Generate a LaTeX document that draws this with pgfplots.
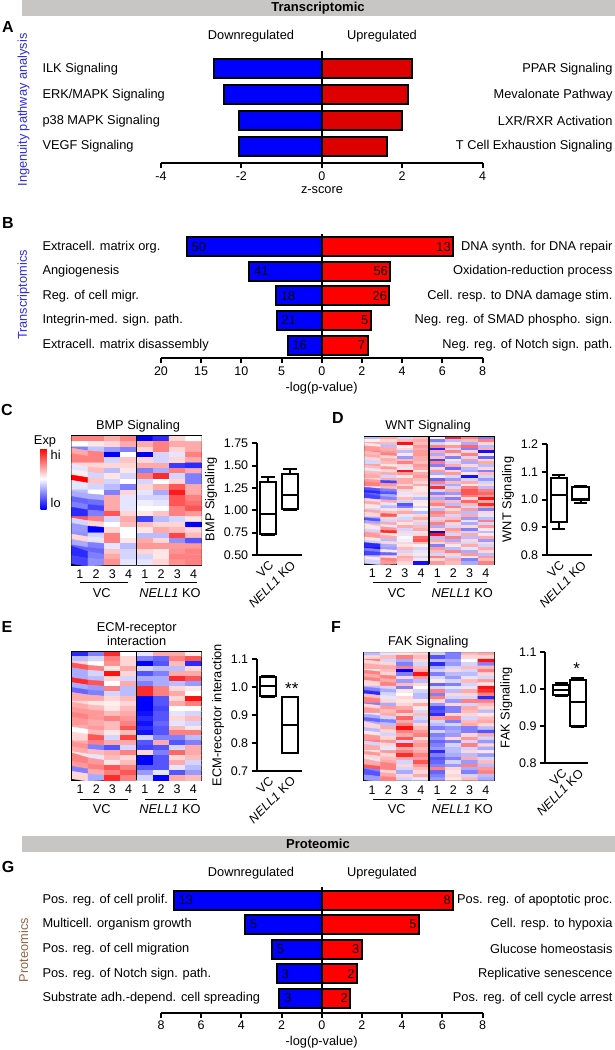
\documentclass[border=0pt]{standalone}
\usepackage{fontspec}
\setmainfont{Liberation Sans}
\usepackage{pgfplots}
\pgfplotsset{compat=1.18}
\usepgfplotslibrary{statistics}
\newcommand\fs[1]{\fontsize{#1bp}{#1bp}\selectfont}
\definecolor{hdr}{RGB}{200,197,197}
\definecolor{bl}{RGB}{0,0,255}
\definecolor{rdA}{RGB}{220,0,0}
\definecolor{rdB}{RGB}{255,0,0}
\definecolor{ipa}{RGB}{45,45,230}
\definecolor{prot}{RGB}{150,100,70}
\pgfplotsset{
  barax/.style={scale only axis, xbar, bar width=19bp, bar shift=0pt, y dir=reverse,
    enlargelimits=false, clip=false,
    axis x line*=bottom, axis y line*=left,
    x axis line style={line width=2bp},
    y axis line style={draw=none},
    xtick style={line width=2bp, black}, ytick style={draw=none},
    xtick align=outside, major tick length=5bp,
    xticklabel style={font=\fs{12.5}}, yticklabel style={font=\fs{12.8}}, ytick={1,2,3,4,5}},
  leftlab/.style={yticklabel style={anchor=west, xshift=-#1}},
  rightlab/.style={axis y line*=right, yticklabel pos=right, yticklabel style={anchor=east, xshift=#1}},
  bb/.style={fill=bl, draw=black, line width=2bp},
  rb/.style={fill=#1, draw=black, line width=2bp},
  lnum/.style={nodes near coords={\hspace{2.5bp}\pgfplotspointmeta}, point meta=explicit symbolic, every node near coord/.append style={anchor=west, font=\fs{12.8}, text=black, inner xsep=1.5bp, inner ysep=0pt}},
  rnum/.style={nodes near coords={\pgfplotspointmeta\hspace{2.5bp}}, point meta=explicit symbolic, every node near coord/.append style={anchor=east, font=\fs{12.8}, text=black, inner xsep=1.5bp, inner ysep=0pt}},
  hm/.style={scale only axis, width=130bp, height=129bp, enlargelimits=false,
    xmin=-0.5, xmax=7.5, ymin=-0.5, y dir=reverse, ytick=\empty,
    xtick={0,...,7}, xticklabels={1,2,3,4,1,2,3,4}, xtick style={draw=none},
    axis line style={line width=1.5bp},
    colormap={bwr}{rgb255=(0,0,255) rgb255=(255,255,255) rgb255=(255,0,0)},
    point meta min=-3, point meta max=3, tick label style={font=\fs{12.5}},
    xticklabel style={yshift=-1.5bp}},
  hmp/.style={matrix plot*, mesh/cols=8, point meta=explicit},
  boxax/.style={scale only axis, axis x line*=bottom, axis y line*=left,
    axis line style={line width=2bp}, xtick={1,2}, xticklabels={VC,\textit{NELL1} KO},
    xtick style={draw=none}, ytick style={line width=2bp, black}, ytick align=outside,
    major tick length=5bp, tick label style={font=\fs{12.5}}, label style={font=\fs{12.8}},
    xticklabel style={rotate=45, anchor=north east}, clip=false,
    boxplot/draw direction=y, boxplot/box extend=0.75},
  bxs/.style={draw=black, line width=2bp, solid, mark=none},
}
\begin{document}
\begin{tikzpicture}
\useasboundingbox (0,0) rectangle (615bp,-1050bp);
% ---------- headers ----------
\fill[hdr] (21.6bp,0bp) rectangle (615bp,-16bp);
\node[font=\fs{13}\bfseries] at (318bp,-8.5bp) {Transcriptomic};
\fill[hdr] (21.6bp,-835.7bp) rectangle (615bp,-852.3bp);
\node[font=\fs{13}\bfseries] at (318bp,-844bp) {Proteomic};
% ---------- letters ----------
\node[font=\fs{16}\bfseries] at (8bp,-27bp) {A};
\node[font=\fs{16}\bfseries] at (8bp,-223bp) {B};
\node[font=\fs{16}\bfseries] at (7bp,-410bp) {C};
\node[font=\fs{16}\bfseries] at (338bp,-418bp) {D};
\node[font=\fs{16}\bfseries] at (7bp,-627bp) {E};
\node[font=\fs{16}\bfseries] at (336bp,-627bp) {F};
\node[font=\fs{16}\bfseries] at (8bp,-867bp) {G};
% ---------- side labels ----------
\node[rotate=90, font=\fs{12.8}, text=ipa] at (23.5bp,-110bp) {Ingenuity pathway analysis};
\node[rotate=90, font=\fs{12.8}, text=ipa] at (23.5bp,-295bp) {Transcriptomics};
\node[rotate=90, font=\fs{12.8}, text=prot] at (23.5bp,-950bp) {Proteomics};
% ---------- panel A ----------
\node[font=\fs{12.8}] at (251bp,-36bp) {Downregulated};
\node[font=\fs{12.8}] at (382bp,-36bp) {Upregulated};
\node[font=\fs{12.8}] at (322bp,-190bp) {z-score};
\begin{axis}[barax, leftlab=117bp, at={(161bp,-163bp)}, anchor=south west, width=321.5bp, height=112bp,
  xmin=-4, xmax=4, ymin=0.305, ymax=4.63, xtick={-4,-2,0,2,4}, xticklabels={-4,-2,0,2,4},
  ytick={1,2,3,4}, yticklabels={ILK Signaling,ERK/MAPK Signaling,p38 MAPK Signaling,VEGF Signaling}]
\addplot[bb] coordinates {(-2.68,1) (-2.42,2) (-2.05,3) (-2.05,4)};
\draw[line width=2bp] (rel axis cs:0.5,0) -- (rel axis cs:0.5,1);
\end{axis}
\begin{axis}[barax, rightlab=128.5bp, axis x line=none, at={(161bp,-163bp)}, anchor=south west, width=321.5bp, height=112bp,
  xmin=-4, xmax=4, ymin=0.305, ymax=4.63, ytick={1,2,3,4},
  yticklabels={PPAR Signaling,Mevalonate Pathway,LXR/RXR Activation,T Cell Exhaustion Signaling}]
\addplot[rb=rdA] coordinates {(2.24,1) (2.14,2) (1.99,3) (1.62,4)};
\draw[line width=2bp] (rel axis cs:0.5,0) -- (rel axis cs:0.5,1);
\end{axis}
% ---------- panel B ----------
\node[font=\fs{12.8}] at (321.6bp,-388bp) {-log(p-value)};
\begin{axis}[barax, leftlab=117bp, at={(161bp,-358.3bp)}, anchor=south west, width=160.75bp, height=124.3bp,
  xmin=-20, xmax=0, ymin=0.484, ymax=5.54, xtick={-20,-15,-10,-5}, xticklabels={20,15,10,5},
  yticklabels={Extracell. matrix org.,Angiogenesis,Reg. of cell migr.,Integrin-med. sign. path.,Extracell. matrix disassembly}]
\addplot[bb, lnum] coordinates {(-16.8,1)[50] (-9.0,2)[41] (-5.7,3)[18] (-5.6,4)[21] (-4.25,5)[16]};
\end{axis}
\begin{axis}[barax, rightlab=128.5bp, at={(321.75bp,-358.3bp)}, anchor=south west, width=160.75bp, height=124.3bp,
  xmin=0, xmax=8, ymin=0.484, ymax=5.54, xtick={0,2,4,6,8}, xticklabels={0,2,4,6,8},
  yticklabels={DNA synth. for DNA repair,Oxidation-reduction process,Cell. resp. to DNA damage stim.,Neg. reg. of SMAD phospho. sign.,Neg. reg. of Notch sign. path.}]
\addplot[rb=rdB, rnum] coordinates {(6.54,1)[13] (3.41,2)[56] (3.37,3)[26] (2.44,4)[5] (2.28,5)[7]};
\draw[line width=2bp] (rel axis cs:0,0) -- (rel axis cs:0,1);
\end{axis}
% ---------- panel G ----------
\node[font=\fs{12.8}] at (251bp,-873bp) {Downregulated};
\node[font=\fs{12.8}] at (382bp,-873bp) {Upregulated};
\node[font=\fs{12.8}] at (321.6bp,-1041.7bp) {-log(p-value)};
\begin{axis}[barax, leftlab=117bp, at={(161bp,-1012.7bp)}, anchor=south west, width=321.5bp, height=126bp,
  xmin=-8, xmax=8, ymin=0.459, ymax=5.585, xtick={-8,-6,-4,-2,0,2,4,6,8}, xticklabels={8,6,4,2,0,2,4,6,8},
  yticklabels={Pos. reg. of cell prolif.,Multicell. organism growth,Pos. reg. of cell migration,Pos. reg. of Notch sign. path.,Substrate adh.-depend. cell spreading}]
\addplot[bb, lnum] coordinates {(-7.36,1)[13] (-3.81,2)[5] (-2.48,3)[5] (-2.25,4)[3] (-2.11,5)[3]};
\draw[line width=2bp] (rel axis cs:0.5,0) -- (rel axis cs:0.5,1);
\end{axis}
\begin{axis}[barax, rightlab=128.5bp, axis x line=none, at={(161bp,-1012.7bp)}, anchor=south west, width=321.5bp, height=126bp,
  xmin=-8, xmax=8, ymin=0.459, ymax=5.585,
  yticklabels={Pos. reg. of apoptotic proc.,Cell. resp. to hypoxia,Glucose homeostasis,Replicative senescence,Pos. reg. of cell cycle arrest}]
\addplot[rb=rdB, rnum] coordinates {(6.54,1)[8] (4.84,2)[5] (1.99,3)[3] (1.75,4)[2] (1.42,5)[2]};
\draw[line width=2bp] (rel axis cs:0.5,0) -- (rel axis cs:0.5,1);
\end{axis}
% ---------- panel C ----------
\node[font=\fs{12.8}] at (138bp,-425.7bp) {BMP Signaling};
\node[font=\fs{12.8}] at (45bp,-441bp) {Exp};
\node[font=\fs{12.8}, anchor=west, inner sep=0pt] at (50.5bp,-455bp) {hi};
\node[font=\fs{12.8}, anchor=west, inner sep=0pt] at (50.5bp,-502.5bp) {lo};
\begin{axis}[hm, ymax=23.5, at={(71.7bp,-565bp)}, anchor=south west,
  colorbar, colorbar style={scale only axis, at={(parent axis.north west)}, anchor=north east, xshift=-33.5bp, yshift=-12.3bp, width=6bp, height=60.7bp, ytick=\empty, axis line style={draw=none}}]
\addplot[hmp] table[row sep=\\, x expr={mod(\coordindex,8)}, y expr={floor(\coordindex/8)}, meta=z] {
z\\
1.5\\1.5\\1\\1.5\\-3\\-2.5\\0.5\\0\\
0\\0.3\\0.5\\1\\1\\1.5\\1\\1\\
-1.5\\-0.7\\-1.2\\-1.5\\0.5\\1.5\\0.5\\1\\
1\\1.5\\-3\\0\\-3\\-0.5\\-0.3\\1.5\\
1.5\\1.5\\-0.5\\0.7\\0.5\\-0.5\\0.5\\1\\
0.5\\0.5\\0.5\\0.5\\1\\1\\-2.3\\-2.5\\
-0.3\\0.8\\-0.8\\0.3\\-1.5\\-1\\1.5\\1\\
0.2\\-0.5\\0.3\\-0.5\\1.5\\2.5\\-0.5\\-1.5\\
3\\0.7\\-0.5\\0\\-0.5\\0\\0.5\\-1.5\\
-0.3\\-0.5\\-0.8\\-1.5\\0.5\\1\\2\\1\\
-0.8\\0\\-1.5\\0.5\\-0.3\\-1\\2.7\\1\\
-1\\-1\\1\\-0.3\\-0.5\\-0.5\\2\\1.5\\
-1.8\\-1.7\\1\\-0.3\\-0.2\\-0.3\\2\\1.7\\
-1.5\\-2.2\\1\\-0.3\\0\\0\\1.5\\2\\
-2.5\\-1.5\\2\\0.5\\0.3\\0.7\\1.5\\1.2\\
2\\1.5\\-0.5\\1\\-2.2\\-0.8\\-0.5\\0.3\\
-0.5\\0.5\\0\\0.8\\0.8\\0.5\\0.5\\-3\\
-1.2\\-3\\0.5\\0\\0.3\\1\\0.8\\0.5\\
-1.3\\-0.5\\1.5\\0\\-0.8\\-0.8\\2.2\\0.8\\
0.5\\-0.3\\1.5\\0.3\\1\\0.5\\-1.3\\-2\\
-1\\-1.5\\-0.3\\-0.8\\1.2\\1.2\\1.2\\1.2\\
-1.8\\-1.8\\0.7\\-0.5\\0.5\\0.3\\1.3\\1.5\\
-2.5\\-1.5\\1\\-0.5\\-0.5\\0.3\\1.5\\1.5\\
-2.2\\-1.3\\1.3\\-0.3\\-0.3\\0.5\\1.3\\1.5\\
};
\draw[line width=1.5bp] (axis cs:3.5,-0.5) -- (axis cs:3.5,23.5);
\end{axis}
\draw[line width=1bp] (80bp,-582.7bp) -- (128bp,-582.7bp);
\draw[line width=1bp] (145bp,-582.7bp) -- (196.7bp,-582.7bp);
\node[font=\fs{12.8}] at (101.7bp,-593bp) {VC};
\node[font=\fs{12.8}] at (170bp,-593bp) {\textit{NELL1} KO};
\begin{axis}[boxax, at={(256.7bp,-555bp)}, anchor=south west, width=45bp, height=111.7bp,
  xmin=0.486, xmax=2.53, ymin=0.5, ymax=1.75, ytick={0.5,0.75,1,1.25,1.5,1.75},
  yticklabels={0.50,0.75,1.00,1.25,1.50,1.75}, ylabel={BMP Signaling}]
\addplot[bxs, boxplot prepared={draw position=1, lower whisker=0.72, lower quartile=0.73, median=0.96, upper quartile=1.32, upper whisker=1.37}] coordinates {};
\addplot[bxs, boxplot prepared={draw position=2, lower whisker=1.0, lower quartile=1.01, median=1.17, upper quartile=1.41, upper whisker=1.46}] coordinates {};
\end{axis}
% ---------- panel D ----------
\node[font=\fs{12.8}] at (428bp,-425.7bp) {WNT Signaling};
\begin{axis}[hm, ymax=45.5, at={(364.3bp,-564bp)}, anchor=south west, height=127.3bp, width=129.7bp]
\addplot[hmp] table[row sep=\\, x expr={mod(\coordindex,8)}, y expr={floor(\coordindex/8)}, meta=z] {
z\\
-0.8\\1.0\\-0.5\\0.8\\0.2\\2.5\\1.5\\-1.5\\
0.2\\0.5\\0.8\\1.0\\-1.5\\-0.8\\0.8\\1.5\\
1.0\\0.8\\2.8\\0.8\\-0.5\\0.3\\-1.0\\0.5\\
0.3\\-0.8\\0.2\\1.2\\1.5\\1.2\\1.8\\-0.8\\
1.2\\1.0\\0.5\\1.0\\-2.5\\-0.5\\-1.5\\1.0\\
1.5\\1.2\\-0.8\\1.2\\1.0\\1.5\\0.5\\-2.8\\
0.8\\1.5\\0.3\\1.2\\-1.0\\0.5\\1.5\\0.3\\
1.0\\0.5\\-1.2\\1.0\\0.8\\-1.5\\-0.5\\-1.8\\
0.5\\1.0\\0.8\\1.0\\-2.2\\0.3\\1.2\\0.5\\
-0.5\\0.8\\1.5\\0.8\\1.5\\-0.5\\-1.0\\1.0\\
1.2\\0.3\\0.5\\1.2\\-1.5\\1.0\\0.5\\-0.8\\
0.8\\1.2\\-0.3\\1.0\\0.5\\-1.8\\-0.8\\0.5\\
-0.3\\0.5\\2.8\\0.3\\1.2\\0.5\\-1.0\\-1.5\\
0.8\\1.0\\1.2\\1.0\\-1.0\\1.2\\0.3\\0.8\\
1.0\\-0.5\\0.3\\1.2\\0.3\\-0.5\\-2.8\\-0.5\\
0.5\\1.0\\1.0\\0.8\\-1.8\\-1.2\\-0.5\\-1.2\\
1.2\\-2.2\\1.0\\0.5\\1.5\\0.8\\1.0\\-0.5\\
1.5\\1.2\\0.5\\1.0\\-0.8\\-1.0\\0.3\\0.5\\
0.3\\0.8\\1.2\\0.3\\2.5\\-0.5\\1.5\\-0.8\\
-2.0\\-1.5\\0.5\\0.3\\-0.5\\1.0\\2.0\\1.5\\
-2.5\\-2.0\\-0.3\\0.5\\-1.5\\-1.2\\2.0\\1.8\\
-1.8\\-1.0\\0.3\\-0.3\\0.8\\0.5\\1.5\\1.2\\
-2.2\\-1.5\\0.8\\-0.8\\-1.0\\-1.5\\0.5\\2.8\\
0.5\\1.0\\-0.5\\0.3\\1.0\\0.8\\1.8\\1.0\\
1.0\\-0.3\\-2.0\\0.2\\1.5\\-0.8\\0.8\\2.5\\
0.3\\-0.8\\-1.5\\-0.5\\0.5\\1.5\\-0.5\\1.0\\
-0.5\\0.3\\0.5\\0.1\\-0.8\\0.5\\1.2\\-1.5\\
1.0\\0.8\\1.0\\-0.8\\1.5\\1.0\\-0.8\\0.5\\
0.5\\2.0\\-0.3\\0.5\\1.2\\-0.5\\1.0\\-0.3\\
-1.0\\0.5\\-0.5\\1.0\\-0.5\\0.8\\-1.2\\-0.8\\
-2.0\\-0.5\\0.8\\0.5\\0.8\\1.5\\-0.3\\1.5\\
-1.0\\1.0\\0.3\\-0.5\\1.5\\0.5\\-1.0\\-0.5\\
0.8\\-0.3\\1.0\\0.8\\-1.0\\-0.5\\0.5\\1.2\\
0.3\\1.2\\-0.5\\1.0\\0.5\\1.2\\-1.5\\0.3\\
-0.5\\2.5\\0.5\\-0.3\\-3.0\\0.8\\-0.5\\-0.8\\
1.0\\0.3\\-0.3\\0.5\\2.8\\-0.5\\1.0\\0.3\\
1.2\\1.0\\0.1\\1.8\\-0.8\\1.5\\-0.8\\1.0\\
0.3\\-0.8\\-0.2\\2.0\\1.0\\-1.0\\0.5\\-1.2\\
-0.5\\0.5\\0.5\\0.8\\0.5\\0.8\\-0.5\\0.5\\
-2.5\\-1.0\\0.3\\0.2\\-1.5\\0.3\\1.0\\-0.5\\
-2.8\\-1.2\\0.8\\-0.5\\1.2\\-0.8\\-0.3\\1.0\\
-1.5\\0.3\\-0.5\\-0.3\\0.8\\1.5\\-1.0\\0.5\\
-2.2\\-1.8\\0.5\\0.3\\-0.5\\0.5\\1.2\\-0.8\\
-0.8\\0.5\\1.0\\-0.5\\1.5\\-0.5\\0.3\\1.2\\
0.3\\1.5\\0.8\\0.3\\0.5\\1.0\\-1.5\\0.8\\
-0.5\\1.2\\0.5\\-2.8\\1.2\\0.8\\-1.0\\1.5\\
};
\draw[line width=1.5bp] (axis cs:3.5,-0.5) -- (axis cs:3.5,45.5);
\end{axis}
\draw[line width=1bp] (373.3bp,-582.7bp) -- (420.7bp,-582.7bp);
\draw[line width=1bp] (436.7bp,-582.7bp) -- (486.7bp,-582.7bp);
\node[font=\fs{12.8}] at (396.7bp,-593bp) {VC};
\node[font=\fs{12.8}] at (462.3bp,-593bp) {\textit{NELL1} KO};
\begin{axis}[boxax, at={(546.7bp,-555bp)}, anchor=south west, width=45bp, height=111bp,
  xmin=0.45, xmax=2.5, ymin=0.8, ymax=1.2, ytick={0.8,0.9,1,1.1,1.2},
  yticklabels={0.8,0.9,1.0,1.1,1.2}, ylabel={WNT Signaling}]
\addplot[bxs, boxplot prepared={draw position=1, lower whisker=0.895, lower quartile=0.918, median=1.015, upper quartile=1.076, upper whisker=1.087}] coordinates {};
\addplot[bxs, boxplot prepared={draw position=2, lower whisker=0.988, lower quartile=0.997, median=1.003, upper quartile=1.045, upper whisker=1.05}] coordinates {};
\end{axis}
% ---------- panel E ----------
\node[font=\fs{12.8}, align=center] at (136.7bp,-634bp) {ECM-receptor\\[1.5bp]interaction};
\begin{axis}[hm, ymax=25.5, at={(72bp,-780bp)}, anchor=south west, height=128.3bp, width=129.5bp]
\addplot[hmp] table[row sep=\\, x expr={mod(\coordindex,8)}, y expr={floor(\coordindex/8)}, meta=z] {
z\\
-2.5\\-1.5\\2.5\\0\\-0.3\\1\\1\\0.2\\
-0.8\\-0.5\\1.5\\0.5\\-1.5\\-1.8\\1.5\\2\\
0.5\\0\\1.3\\0.5\\-3\\-2\\0.8\\-2.5\\
2\\1.5\\0.3\\1\\-0.5\\-0.8\\-0.8\\0.5\\
-1\\-0.5\\2.8\\0.5\\-2\\-1.5\\1\\1\\
-1\\-0.8\\0.5\\-0.5\\-1\\-1\\2.5\\2\\
2.5\\2\\0\\1\\-1.5\\-1\\-0.8\\-1.2\\
-1\\-1.2\\1.5\\-0.8\\2.5\\1.5\\0.5\\0.3\\
-1.8\\-1.5\\-0.5\\-0.8\\2.5\\1.5\\1\\0\\
1\\1\\0.5\\0.8\\-3\\-2\\0.5\\2.8\\
0.5\\0.3\\0.2\\0.5\\-3\\-2\\1\\1.5\\
1\\0.8\\0.3\\0.8\\-3\\-2.2\\0\\0\\
1.2\\1.2\\0.8\\1\\-2.8\\-2\\-0.3\\-0.5\\
1.5\\1.2\\1.5\\1.2\\-2.5\\-2\\0.5\\0.8\\
1.2\\1\\0.8\\1.5\\-2.8\\-1.8\\-0.3\\-0.5\\
1\\1.2\\0.8\\2\\-2.5\\-2\\0.8\\0.3\\
0\\0.8\\0.3\\0.8\\-2.8\\-2\\1.5\\1.5\\
0.5\\2\\-0.5\\2.2\\-0.5\\-1.5\\-1.5\\-0.8\\
1\\1.5\\1\\1\\-2\\1\\-2\\-1.5\\
1.3\\-1.5\\-2\\-0.5\\-2.2\\-2\\-0.5\\1\\
1\\0.8\\1\\1.5\\0.5\\-1.5\\1.8\\1\\
0.3\\-0.3\\0.8\\0.5\\-3\\-2\\0.5\\0.8\\
1.5\\1.2\\0.3\\0.8\\-3\\-2\\1\\-0.5\\
1.2\\1.5\\2\\1.5\\-2\\-2\\-0.3\\-0.8\\
-1.5\\1\\1.5\\2\\-1.2\\-0.3\\-2\\-1.2\\
0.5\\-1\\2.5\\1.5\\-0.5\\-3\\1\\0.8\\
};
\draw[line width=1.5bp] (axis cs:3.5,-0.5) -- (axis cs:3.5,25.5);
\end{axis}
\draw[line width=1bp] (80bp,-799bp) -- (128bp,-799bp);
\draw[line width=1bp] (145bp,-799bp) -- (196.7bp,-799bp);
\node[font=\fs{12.8}] at (101.7bp,-809.3bp) {VC};
\node[font=\fs{12.8}] at (170bp,-809.3bp) {\textit{NELL1} KO};
\begin{axis}[boxax, at={(256.7bp,-770.7bp)}, anchor=south west, width=45bp, height=111.4bp,
  xmin=0.486, xmax=2.53, ymin=0.7, ymax=1.1, ytick={0.7,0.8,0.9,1,1.1},
  yticklabels={0.7,0.8,0.9,1.0,1.1}, ylabel={ECM-receptor interaction}]
\addplot[bxs, boxplot prepared={draw position=1, lower whisker=0.965, lower quartile=0.968, median=1.003, upper quartile=1.035, upper whisker=1.04}] coordinates {};
\addplot[bxs, boxplot prepared={draw position=2, lower whisker=0.762, lower quartile=0.763, median=0.864, upper quartile=0.965, upper whisker=0.966}] coordinates {};
\node[font=\fs{17}] at (axis cs:2.08,0.995) {**};
\end{axis}
% ---------- panel F ----------
\node[font=\fs{12.8}] at (428.3bp,-641.7bp) {FAK Signaling};
\begin{axis}[hm, ymax=37.5, at={(364bp,-780.7bp)}, anchor=south west, height=128.4bp, width=130bp]
\addplot[hmp] table[row sep=\\, x expr={mod(\coordindex,8)}, y expr={floor(\coordindex/8)}, meta=z] {
z\\
-0.8\\-0.3\\0.3\\0.5\\-0.5\\-1.5\\0.8\\1\\
0.5\\0.8\\1.5\\0.8\\-2\\-1.5\\0.5\\0.5\\
1.5\\-0.5\\-1\\0.5\\-0.8\\-1\\0\\2.8\\
0.5\\0.5\\-1.5\\-0.5\\-2.5\\-1.2\\-0.5\\-1.5\\
1\\1\\1.5\\0.8\\-1\\-0.5\\0.8\\0.8\\
0.3\\0.8\\-3\\1\\-0.5\\0.5\\-0.5\\1.5\\
1.5\\0.5\\-1.5\\2.8\\-1.5\\-0.8\\-0.8\\0.5\\
1\\1.5\\0.5\\1.2\\-0.5\\-1.2\\-0.3\\-0.5\\
1.5\\1\\-1.2\\-0.8\\0.3\\-0.5\\0.8\\1.2\\
0.5\\1.5\\0.8\\0.5\\-1.8\\-1.5\\-0.5\\0.3\\
-0.8\\-0.5\\-1.5\\0\\-0.5\\-0.3\\-0.3\\2.8\\
-1.5\\-1\\0.3\\-0.5\\1.5\\-0.8\\1\\2.5\\
-2.5\\-0.5\\0\\-0.8\\-1.5\\0.5\\0.5\\1.5\\
0.8\\-0.3\\0.5\\-0.8\\1.5\\-0.5\\-0.5\\-2.5\\
1.5\\0.5\\0.3\\0.3\\0.5\\-1.2\\1.5\\1.5\\
-1.5\\-1\\0.5\\1\\-1.2\\0.5\\-0.5\\0.8\\
0.5\\1.2\\1\\0.3\\-2.2\\-1.5\\1\\0.5\\
1.2\\0.8\\1.5\\-0.5\\-2\\-1.5\\0.8\\-0.8\\
-0.3\\1\\0.5\\0.8\\-2.5\\0.5\\0.5\\0.3\\
-1\\-0.5\\1.8\\-0.5\\1.2\\1.5\\-0.5\\0.8\\
-1.8\\-1.5\\1\\-0.8\\-0.5\\-1.5\\0.8\\1\\
-1\\-0.8\\1.5\\0.5\\-0.8\\-0.5\\1\\0.5\\
0.5\\1\\2.8\\0.8\\-1.5\\-1.2\\-1.5\\-0.8\\
-0.8\\0.5\\1.5\\1.2\\-0.5\\-1\\-1.5\\-2\\
0.3\\-0.5\\1\\1.5\\-1.5\\-1.2\\0.5\\1\\
1.2\\0.5\\2\\0.5\\-1.2\\0.5\\1.2\\-0.5\\
1.5\\1.2\\-0.5\\1\\-1.8\\-1.5\\-0.5\\-1.2\\
-0.5\\0.5\\2.5\\1.2\\-1.5\\-0.5\\1.5\\0.5\\
1\\-0.3\\1\\0.8\\-1.2\\-0.8\\-0.5\\-1\\
0.3\\1.2\\1.5\\1\\-2.5\\-0.8\\0.5\\0.3\\
1.2\\0.5\\2.5\\1.5\\-1.5\\-1\\-0.8\\-1.2\\
0.5\\0.8\\1\\1.2\\-2\\-1.5\\1\\-0.5\\
-0.3\\1\\-0.5\\2\\-1.8\\-0.5\\-1.2\\0.8\\
1\\1.5\\0.5\\1.2\\-1.5\\-1.2\\1.5\\-0.8\\
2\\1.5\\-0.5\\0.8\\1.5\\0.5\\-1\\1.2\\
-1.5\\0.5\\-1\\0.5\\-1.8\\0.3\\-1.5\\1.5\\
-2\\1\\0.5\\1\\-1.5\\0.5\\-0.5\\-0.8\\
-1.2\\1.5\\-0.5\\-0.3\\-1.2\\0.3\\0.8\\-1\\
};
\draw[line width=1.5bp] (axis cs:3.5,-0.5) -- (axis cs:3.5,37.5);
\end{axis}
\draw[line width=1bp] (373.3bp,-799bp) -- (420.7bp,-799bp);
\draw[line width=1bp] (436.7bp,-799bp) -- (486.7bp,-799bp);
\node[font=\fs{12.8}] at (396.7bp,-809.3bp) {VC};
\node[font=\fs{12.8}] at (462.3bp,-809.3bp) {\textit{NELL1} KO};
\begin{axis}[boxax, at={(545bp,-763.3bp)}, anchor=south west, width=43.3bp, height=111bp,
  xmin=0.024, xmax=2.62, ymin=0.8, ymax=1.1, ytick={0.8,0.9,1,1.1}, boxplot/box extend=0.97,
  yticklabels={0.8,0.9,1.0,1.1}, ylabel={FAK Signaling}]
\addplot[bxs, boxplot prepared={draw position=1, lower whisker=0.982, lower quartile=0.985, median=0.997, upper quartile=1.012, upper whisker=1.016}] coordinates {};
\addplot[bxs, boxplot prepared={draw position=2, lower whisker=0.897, lower quartile=0.90, median=0.966, upper quartile=1.025, upper whisker=1.03}] coordinates {};
\node[font=\fs{17}] at (axis cs:1.93,1.055) {*};
\end{axis}
\end{tikzpicture}
\end{document}
